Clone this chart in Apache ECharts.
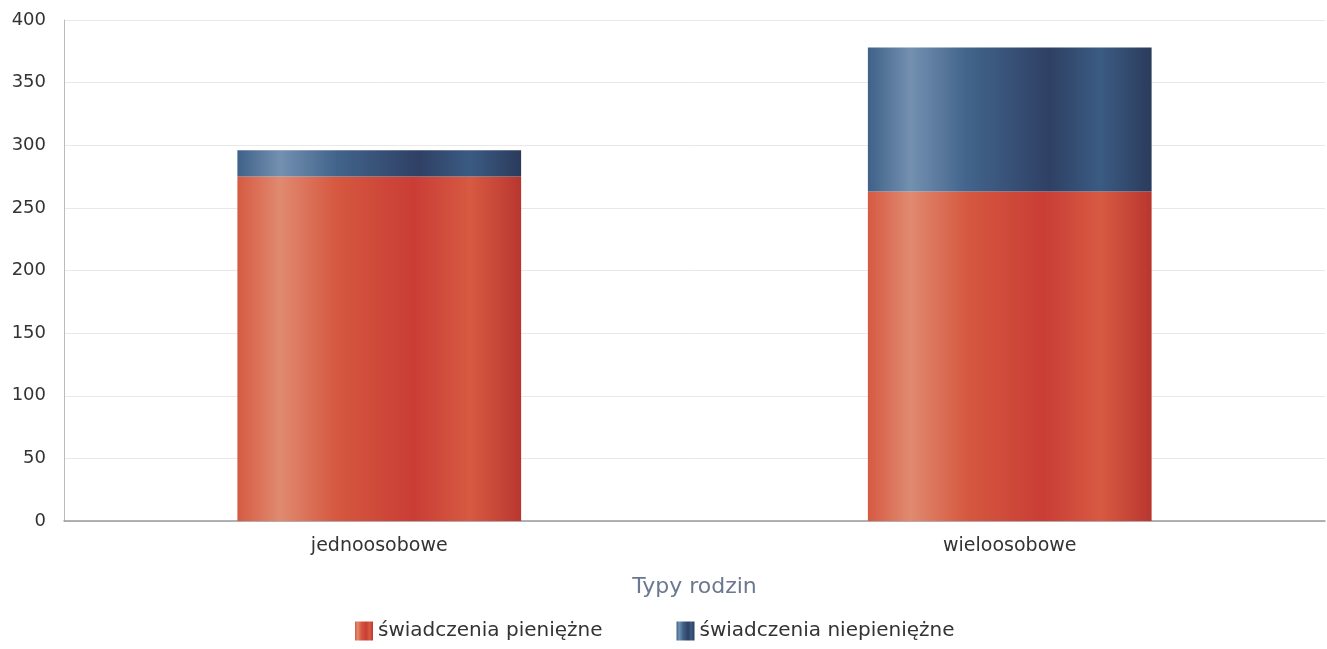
<!DOCTYPE html>
<html>
<head>
<meta charset="utf-8">
<script src="https://cdn.jsdelivr.net/npm/echarts@6/dist/echarts.min.js"></script>
<style>
  html, body { margin: 0; padding: 0; background: #fff; }
  #chart { width: 1327px; height: 649px; }
</style>
</head>
<body>
<div id="chart"></div>
<script>
// chart data
const categories = ['jednoosobowe', 'wieloosobowe'];
const pieniezne = [275, 263];
const niepieniezne = [21, 115];
const seriesNames = ['świadczenia pieniężne', 'świadczenia niepieniężne'];

const redGradient = new echarts.graphic.LinearGradient(0, 0, 1, 0, [
    { offset: 0, color: '#d65a42' },
    { offset: 0.15, color: '#e08a70' },
    { offset: 0.35, color: '#d5583f' },
    { offset: 0.62, color: '#c93d35' },
    { offset: 0.82, color: '#d75a42' },
    { offset: 1, color: '#b9362f' }
]);
const blueGradient = new echarts.graphic.LinearGradient(0, 0, 1, 0, [
    { offset: 0, color: '#3f6188' },
    { offset: 0.15, color: '#7390b0' },
    { offset: 0.35, color: '#42648b' },
    { offset: 0.64, color: '#2f4064' },
    { offset: 0.82, color: '#3b5b83' },
    { offset: 1, color: '#2b3b5c' }
]);

const chart = echarts.init(document.getElementById('chart'));
chart.setOption({
    animation: false,
    textStyle: { fontFamily: 'DejaVu Sans, sans-serif' },
    grid: { top: 20, right: 2, bottom: 128, left: 64 },
    legend: {
        bottom: 3,
        left: 350,
        itemGap: 74,
        itemWidth: 18,
        itemHeight: 19,
        icon: 'rect',
        textStyle: { color: '#333', fontSize: 20 },
        data: seriesNames
    },
    xAxis: {
        type: 'category',
        data: categories,
        name: 'Typy rodzin',
        nameLocation: 'middle',
        nameGap: 55,
        nameTextStyle: { color: '#6b7890', fontSize: 22 },
        axisLine: { lineStyle: { color: '#999', width: 1.5 } },
        axisTick: { show: false },
        axisLabel: { color: '#333', fontSize: 19, margin: 16 }
    },
    yAxis: {
        type: 'value',
        min: 0,
        max: 400,
        interval: 50,
        axisLine: { show: true, lineStyle: { color: '#bbb' } },
        axisTick: { show: false },
        axisLabel: { color: '#333', fontSize: 18, margin: 18 },
        splitLine: { lineStyle: { color: '#e8e8e8' } }
    },
    series: [
        {
            name: seriesNames[0],
            type: 'bar',
            stack: 'total',
            barWidth: '45%',
            data: pieniezne,
            itemStyle: { color: redGradient }
        },
        {
            name: seriesNames[1],
            type: 'bar',
            stack: 'total',
            barWidth: '45%',
            data: niepieniezne,
            itemStyle: { color: blueGradient }
        }
    ]
});
</script>
</body>
</html>
